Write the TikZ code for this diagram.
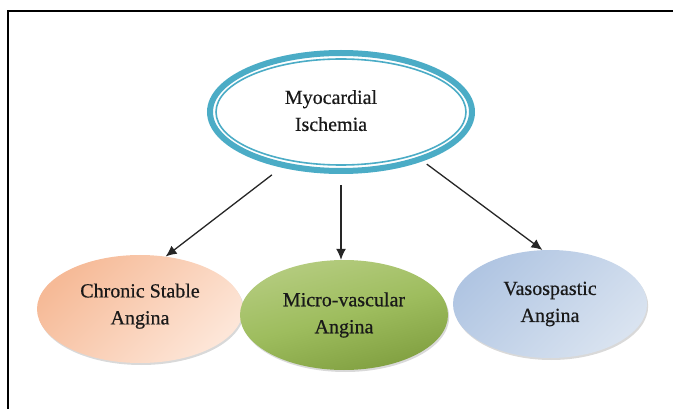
\documentclass[tikz,border=0pt]{standalone}
\usepackage{fontspec}
\setmainfont{Liberation Serif}
\newfontfamily\labelfont{Liberation Serif}[FakeBold=0.6]
\usetikzlibrary{shapes.geometric,shadows,arrows.meta}

\definecolor{ringteal}{HTML}{4BACC6}
\definecolor{peachdark}{HTML}{F6BA97}
\definecolor{peachlight}{HTML}{FDE6D8}
\definecolor{greenlight}{HTML}{B5CC80}
\definecolor{greenmid}{HTML}{9EBD5E}
\definecolor{greendark}{HTML}{809F40}
\definecolor{bluedark}{HTML}{B0C5E2}
\definecolor{bluelight}{HTML}{D9E3F0}

\begin{document}
\begin{tikzpicture}[x=1pt,y=-1pt,
  label text/.style={align=center, font=\labelfont\fontsize{20}{27}\selectfont, text=black!90},
  bubble/.style={ellipse, inner sep=0pt, label text,
    drop shadow={opacity=0.3, shadow xshift=1.2pt, shadow yshift=-2pt}},
  arr/.style={-{Latex[length=11pt,width=10pt]}, line width=1.3pt, draw=black!85}]

\useasboundingbox (0,0) rectangle (673,409);

% page frame (top and left rules)
\draw[line width=2pt] (8,409) -- (8,11) -- (673,11);

% central concept with a double teal ring; its two lines sit a little left of centre
\node[ellipse, inner sep=0pt, label text, fill=white, draw=ringteal, line width=6pt,
      minimum width=262pt, minimum height=118pt,
      path picture={\draw[ringteal, line width=1.6pt]
        (path picture bounding box.center) ellipse [x radius=125, y radius=53];}]
  (top) at (341,112) {Myocardial\hspace*{20pt}\\Ischemia\hspace*{20pt}\rule[-3pt]{0pt}{3pt}};

% the three kinds of angina
\node[bubble, top color=peachdark, bottom color=peachlight, shading angle=45,
      minimum width=206pt, minimum height=108pt]
  (left) at (140,309) {Chronic Stable\\Angina\rule[-10pt]{0pt}{10pt}};
\node[bubble, top color=greenlight, bottom color=greendark, middle color=greenmid,
      shading angle=15, minimum width=208pt, minimum height=110pt]
  (mid) at (344,315) {Micro-vascular\\Angina};
\node[bubble, top color=bluedark, bottom color=bluelight, shading angle=45,
      minimum width=194pt, minimum height=108pt]
  (right) at (550,304) {Vasospastic\\Angina};

% connectors
\draw[arr, shorten <=12pt] (top.223) -- (left.64);
\draw[arr, shorten <=11pt] (top.south) -- (top.south |- mid.north);
\draw[arr, shorten <=5pt] (top.329) -- (right.98);
\end{tikzpicture}
\end{document}
